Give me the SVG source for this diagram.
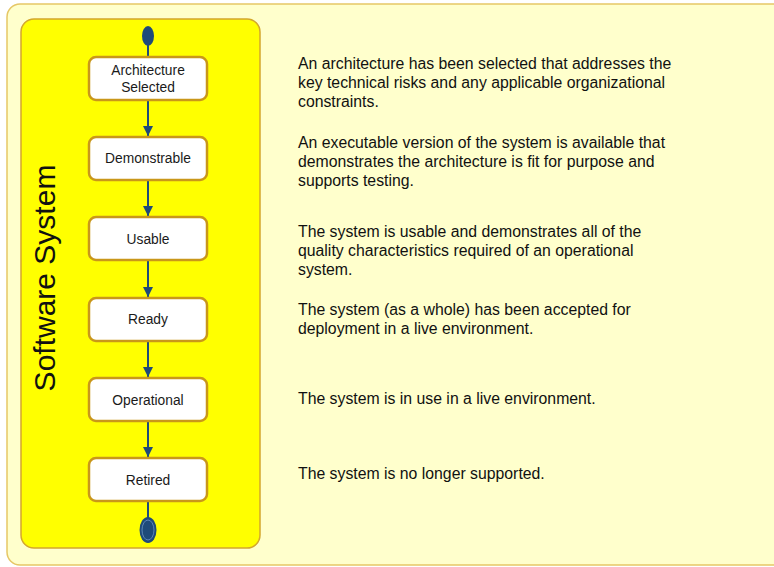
<svg xmlns="http://www.w3.org/2000/svg" width="774" height="567" viewBox="0 0 774 567">
<defs>
<style>
.state{fill:#FFFFFF;stroke:#C9971A;stroke-width:2.5}
.lbl{font-family:"Liberation Sans",Arial,sans-serif;font-size:13.8px;fill:#1a1a1a;text-anchor:middle}
.desc{font-family:"Liberation Sans",Arial,sans-serif;font-size:15.8px;fill:#111111}
.conn{stroke:#1F4A7A;stroke-width:2;fill:none}
</style>
<marker id="arr" viewBox="0 0 10 10" refX="10" refY="5" markerWidth="5" markerHeight="5" orient="auto" markerUnits="strokeWidth">
<path d="M0,0 L10,5 L0,10 z" fill="#1F4A7A"/>
</marker>
</defs>
<rect x="0" y="0" width="774" height="567" fill="#FFFFFF"/>
<rect id="outer" x="7" y="4" width="780" height="561" rx="13" fill="#FFFFCC" stroke="#E6C766" stroke-width="1.5"/>
<g id="swimlane">
<rect x="21" y="19" width="239" height="529" rx="13" fill="#FFFF00" stroke="#D4A72C" stroke-width="1.5"/>
<text transform="translate(55,278) rotate(-90)" text-anchor="middle" font-family="'Liberation Sans',Arial,sans-serif" font-size="30" fill="#111111">Software System</text>
</g>
<g id="connectors">
<line class="conn" x1="148" y1="44" x2="148" y2="57"/>
<line class="conn" x1="148" y1="101" x2="148" y2="136" marker-end="url(#arr)"/>
<line class="conn" x1="148" y1="181" x2="148" y2="216" marker-end="url(#arr)"/>
<line class="conn" x1="148" y1="261" x2="148" y2="297" marker-end="url(#arr)"/>
<line class="conn" x1="148" y1="342" x2="148" y2="377" marker-end="url(#arr)"/>
<line class="conn" x1="148" y1="422" x2="148" y2="457" marker-end="url(#arr)"/>
<line class="conn" x1="148" y1="502" x2="148" y2="518"/>
</g>
<g id="start">
<ellipse cx="148" cy="36" rx="6" ry="10" fill="#1F4A7A"/>
</g>
<g id="n-architecture">
<rect class="state" x="89" y="57" width="118" height="43" rx="7"/>
<text class="lbl" x="148" y="75">Architecture</text>
<text class="lbl" x="148" y="92">Selected</text>
</g>
<g id="n-demonstrable">
<rect class="state" x="89" y="137" width="118" height="43" rx="7"/>
<text class="lbl" x="148" y="163">Demonstrable</text>
</g>
<g id="n-usable">
<rect class="state" x="89" y="217" width="118" height="43" rx="7"/>
<text class="lbl" x="148" y="244">Usable</text>
</g>
<g id="n-ready">
<rect class="state" x="89" y="298" width="118" height="43" rx="7"/>
<text class="lbl" x="148" y="324">Ready</text>
</g>
<g id="n-operational">
<rect class="state" x="89" y="378" width="118" height="43" rx="7"/>
<text class="lbl" x="148" y="405">Operational</text>
</g>
<g id="n-retired">
<rect class="state" x="89" y="458" width="118" height="43" rx="7"/>
<text class="lbl" x="148" y="485">Retired</text>
</g>
<g id="end">
<ellipse cx="148" cy="530" rx="8.5" ry="13" fill="#1F4A7A"/>
<ellipse cx="148" cy="530" rx="6" ry="10" fill="none" stroke="#5C86B8" stroke-width="1"/>
</g>
<g id="descriptions">
<text class="desc" x="298" y="69">An architecture has been selected that addresses the</text>
<text class="desc" x="298" y="88">key technical risks and any applicable organizational</text>
<text class="desc" x="298" y="107">constraints.</text>
<text class="desc" x="298" y="148">An executable version of the system is available that</text>
<text class="desc" x="298" y="167">demonstrates the architecture is fit for purpose and</text>
<text class="desc" x="298" y="186">supports testing.</text>
<text class="desc" x="298" y="237">The system is usable and demonstrates all of the</text>
<text class="desc" x="298" y="256">quality characteristics required of an operational</text>
<text class="desc" x="298" y="275">system.</text>
<text class="desc" x="298" y="315">The system (as a whole) has been accepted for</text>
<text class="desc" x="298" y="334">deployment in a live environment.</text>
<text class="desc" x="298" y="404">The system is in use in a live environment.</text>
<text class="desc" x="298" y="479">The system is no longer supported.</text>
</g>
</svg>
